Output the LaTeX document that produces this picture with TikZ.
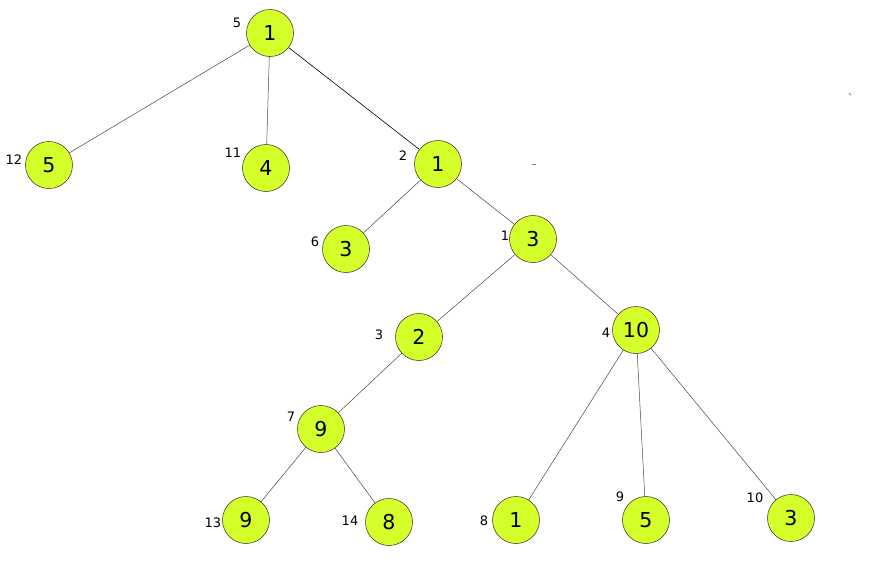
\documentclass[tikz,border=0pt]{standalone}
\usepackage{fontspec}
\setmainfont{DejaVu Sans}
\usepackage{xcolor}
\usepackage{tikz}
\definecolor{nodefill}{RGB}{212,255,42}
\definecolor{nodeline}{RGB}{40,40,40}
\definecolor{edgeline}{RGB}{70,70,70}
\tikzset{
  nd/.style  ={circle, draw=nodeline, fill=nodefill, line width=0.5pt, minimum size=47pt, inner sep=0pt, font=\fontsize{20.5}{22}\selectfont},
  idx/.style ={font=\fontsize{13}{14}\selectfont, inner sep=0pt},
  ed/.style  ={draw=edgeline, line width=0.5pt},
  tick/.style={draw=gray, line width=0.8pt},
}

\begin{document}
\begin{tikzpicture}[x=1pt,y=-1pt]
  \useasboundingbox (0,0) rectangle (873,574);
  % nodes
  \node[nd] (n5)  at (270,33)  {1};
  \node[nd] (n12) at (49,165)  {5};
  \node[nd] (n11) at (266,168) {4};
  \node[nd] (n2)  at (438,164) {1};
  \node[nd] (n6)  at (346,249) {3};
  \node[nd] (n1)  at (533,239) {3};
  \node[nd] (n3)  at (419,337) {2};
  \node[nd] (n4)  at (636,330) {10};
  \node[nd] (n7)  at (321,429) {9};
  \node[nd] (n13) at (246,520) {9};
  \node[nd] (n14) at (389,522) {8};
  \node[nd] (n8)  at (516,520) {1};
  \node[nd] (n9)  at (646,520) {5};
  \node[nd] (n10) at (791,518) {3};
  % index labels
  \node[idx] (l5)  at (237,23)  {5};
  \node[idx] (l12) at (14,160)  {12};
  \node[idx] (l11) at (233,153) {11};
  \node[idx] (l2)  at (403,156) {2};
  \node[idx] (l6)  at (315,242) {6};
  \node[idx] (l1)  at (505,236) {1};
  \node[idx] (l3)  at (379,335) {3};
  \node[idx] (l4)  at (606,333) {4};
  \node[idx] (l7)  at (291,417) {7};
  \node[idx] (l13) at (213,523) {13};
  \node[idx] (l14) at (350,521) {14};
  \node[idx] (l8)  at (484,521) {8};
  \node[idx] (l9)  at (620,497) {9};
  \node[idx] (l10) at (755,498) {10};
  % edges
  \draw[ed] (n5) -- (n12);
  \draw[ed] (n5) -- (n11);
  \draw[ed, draw=black, line width=0.6pt] (n5) -- (n2);
  \draw[ed] (n2) -- (n6);
  \draw[ed] (n2) -- (n1);
  \draw[ed] (n1) -- (n3);
  \draw[ed] (n1) -- (n4);
  \draw[ed] (n3) -- (n7);
  \draw[ed] (n7) -- (n13);
  \draw[ed] (n7) -- (n14);
  \draw[ed] (n4) -- (n8);
  \draw[ed] (n4) -- (n9);
  \draw[ed] (n4) -- (n10);
  % stray marks
  \draw[tick] (532,164) -- (536,164);
  \draw[tick] (849,93) -- (851,95);
\end{tikzpicture}
\end{document}
